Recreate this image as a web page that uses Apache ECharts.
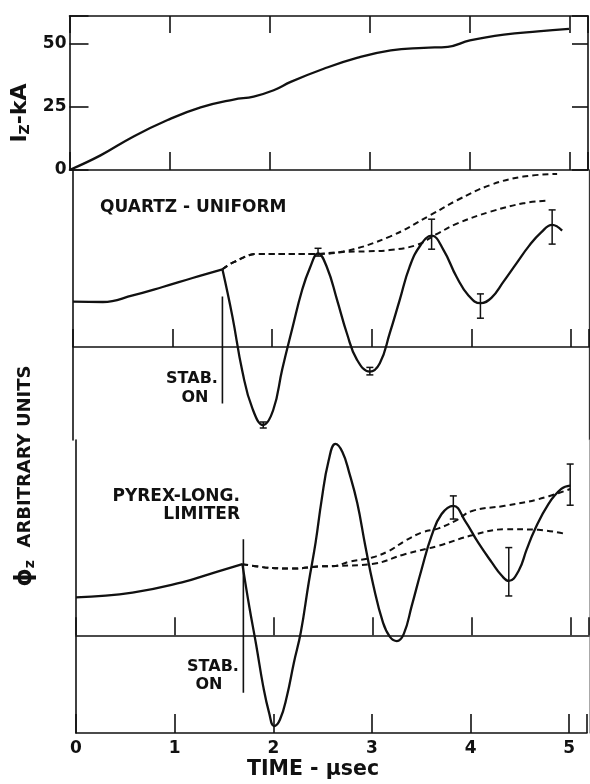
<!DOCTYPE html>
<html><head><meta charset="utf-8">
<script src="https://cdn.jsdelivr.net/npm/echarts@6/dist/echarts.min.js"></script>
<style>html,body{margin:0;padding:0;background:#fff}#c{width:590px;height:784px}</style>
</head><body><div id="c"></div>
<script>
// ---------- data (time in microseconds) ----------
const xTicks = [0, 1, 2, 3, 4, 5];
const currentTicks = [0, 25, 50];

// Top panel: I_z (kA)
const currentT  = [0, 0.31, 0.64, 0.98, 1.31, 1.64, 1.84, 2.04, 2.21, 2.54, 2.88, 3.21, 3.54, 3.78, 4.0, 4.34, 4.68, 4.99];
const currentKA = [0, 5.8, 13.3, 19.8, 24.8, 27.9, 29.1, 31.6, 34.9, 40.1, 44.5, 47.4, 48.4, 48.8, 51.3, 53.6, 54.9, 55.9];

// Quartz - uniform (phi_z, arbitrary units)
const quartzPreT  = [0, 0.3, 0.6, 0.9, 1.2, 1.5];
const quartzPreV  = [1.51, 1.50, 1.72, 2.00, 2.30, 2.59];
const quartzPostT = [1.50, 1.60, 1.70, 1.80, 1.91, 2.01, 2.10, 2.20, 2.30, 2.38, 2.46, 2.55, 2.65, 2.75, 2.85, 2.98, 3.08, 3.18, 3.28, 3.38, 3.49, 3.60, 3.72, 3.85, 3.97, 4.09, 4.20, 4.32, 4.45, 4.58, 4.70, 4.81, 4.91];
const quartzPostV = [2.59, 1.02, -0.81, -2.04, -2.60, -2.10, -0.75, 0.60, 1.90, 2.65, 3.12, 2.65, 1.58, 0.45, -0.42, -0.82, -0.54, 0.46, 1.57, 2.68, 3.40, 3.71, 3.23, 2.34, 1.72, 1.46, 1.64, 2.17, 2.78, 3.38, 3.82, 4.07, 3.88];
const quartzDashUpT = [1.50, 1.62, 1.85, 2.08, 2.41, 2.71, 3.18, 3.59, 3.86, 4.19, 4.52, 4.86];
const quartzDashUpV = [2.59, 2.84, 3.10, 3.10, 3.10, 3.18, 3.68, 4.40, 4.90, 5.40, 5.68, 5.77];
const quartzDashLoT = [1.50, 1.62, 1.85, 2.08, 2.41, 2.71, 2.95, 3.18, 3.45, 3.65, 3.86, 4.19, 4.52, 4.77];
const quartzDashLoV = [2.59, 2.84, 3.10, 3.10, 3.10, 3.17, 3.19, 3.23, 3.40, 3.76, 4.12, 4.51, 4.79, 4.88];
const quartzErrT  = [1.91, 2.46, 2.98, 3.60, 4.09, 4.81];
const quartzErrLo = [-2.70, 3.03, -0.93, 3.26, 0.96, 3.43];
const quartzErrHi = [-2.50, 3.29, -0.68, 4.26, 1.77, 4.57];
const quartzStabT = 1.50;
const quartzStabV = [1.68, -1.88];

// Pyrex - long. limiter
const pyrexPreT  = [0, 0.57, 1.07, 1.34, 1.68];
const pyrexPreV  = [1.26, 1.42, 1.76, 2.03, 2.37];
const pyrexPostT = [1.68, 1.75, 1.82, 1.89, 1.95, 2.00, 2.06, 2.13, 2.20, 2.27, 2.35, 2.42, 2.48, 2.55, 2.62, 2.69, 2.76, 2.84, 2.92, 3.00, 3.10, 3.17, 3.24, 3.31, 3.39, 3.49, 3.59, 3.69, 3.81, 3.93, 4.06, 4.20, 4.30, 4.37, 4.47, 4.55, 4.63, 4.77, 4.90, 4.99];
const pyrexPostV = [2.37, 0.95, -0.33, -1.69, -2.58, -3.02, -2.80, -2.02, -0.91, 0.10, 1.76, 3.10, 4.50, 5.80, 6.37, 6.10, 5.40, 4.40, 3.00, 1.70, 0.42, -0.05, -0.19, 0.05, 0.98, 2.20, 3.31, 4.03, 4.31, 3.80, 3.09, 2.42, 1.98, 1.81, 2.15, 2.85, 3.50, 4.37, 4.87, 4.98];
const pyrexDashUpT = [1.68, 1.91, 2.18, 2.45, 2.62, 2.75, 2.99, 3.16, 3.32, 3.49, 3.66, 3.83, 4.00, 4.33, 4.67, 4.99];
const pyrexDashUpV = [2.37, 2.26, 2.22, 2.29, 2.31, 2.44, 2.59, 2.81, 3.14, 3.42, 3.56, 3.81, 4.14, 4.31, 4.53, 4.87];
const pyrexDashLoT = [1.68, 1.91, 2.18, 2.45, 2.62, 2.99, 3.32, 3.66, 4.00, 4.33, 4.67, 4.92];
const pyrexDashLoV = [2.37, 2.26, 2.22, 2.29, 2.31, 2.37, 2.70, 2.98, 3.33, 3.53, 3.51, 3.39];
const pyrexErrT  = [3.81, 4.37, 4.99];
const pyrexErrLo = [3.87, 1.31, 4.33];
const pyrexErrHi = [4.64, 2.92, 5.70];
const pyrexStabT = 1.69;
const pyrexStabV = [3.20, -1.91];

// ---------- helpers ----------
const INK = '#111';
const FONT = 'DejaVu Sans';
const zip = (a, b) => a.map((v, i) => [v, b[i]]);
const isInt = v => Math.abs(v - Math.round(v)) < 1e-6;

function errItem(params, api) {
  const x = api.value(0), lo = api.value(1), hi = api.value(2);
  const p1 = api.coord([x, lo]), p2 = api.coord([x, hi]);
  const w = 3.5, st = { stroke: INK, lineWidth: 1.5 };
  return { type: 'group', children: [
    { type: 'line', shape: { x1: p1[0], y1: p1[1], x2: p2[0], y2: p2[1] }, style: st },
    { type: 'line', shape: { x1: p1[0] - w, y1: p1[1], x2: p1[0] + w, y2: p1[1] }, style: st },
    { type: 'line', shape: { x1: p2[0] - w, y1: p2[1], x2: p2[0] + w, y2: p2[1] }, style: st }
  ]};
}

const axLine = { onZero: false, lineStyle: { color: INK, width: 1.6 } };
function xAx(grid, pos, tickLen, extra) {
  return Object.assign({
    type: 'value', gridIndex: grid, position: pos, min: 0, max: 5.18, interval: 1,
    axisLine: axLine, axisTick: { inside: true, length: tickLen, lineStyle: { color: INK, width: 1.6 } },
    axisLabel: { show: false }, splitLine: { show: false }
  }, extra || {});
}
function yAx(grid, pos, min, max, extra) {
  return Object.assign({
    type: 'value', gridIndex: grid, position: pos, min: min, max: max,
    axisLine: axLine, axisTick: { show: false }, axisLabel: { show: false }, splitLine: { show: false }
  }, extra || {});
}
function solid(xi, yi, data) {
  return { type: 'line', xAxisIndex: xi, yAxisIndex: yi, data: data, smooth: 0.45, symbol: 'none',
    lineStyle: { color: INK, width: 2.3 }, silent: true, animation: false };
}
function dashed(xi, yi, data) {
  return { type: 'line', xAxisIndex: xi, yAxisIndex: yi, data: data, smooth: 0.4, symbol: 'none',
    lineStyle: { color: INK, width: 2, type: [6, 4] }, silent: true, animation: false };
}
function errs(xi, yi, t, lo, hi) {
  return { type: 'custom', xAxisIndex: xi, yAxisIndex: yi, renderItem: errItem,
    data: t.map((v, i) => [v, lo[i], hi[i]]), encode: { x: 0, y: [1, 2] }, silent: true, animation: false };
}
function stab(xi, yi, t, v) {
  return { type: 'line', xAxisIndex: xi, yAxisIndex: yi, data: [[t, v[0]], [t, v[1]]], symbol: 'none',
    lineStyle: { color: INK, width: 1.6 }, silent: true, animation: false };
}
function txt(x, y, s, size, align) {
  return { type: 'text', x: x, y: y, style: { text: s, fill: INK, font: 'bold ' + size + 'px "' + FONT + '"',
    textAlign: align || 'center', textVerticalAlign: 'middle' } };
}

const chart = echarts.init(document.getElementById('c'), null, { renderer: 'canvas' });
chart.setOption({
  backgroundColor: '#fff',
  animation: false,
  grid: [
    { left: 69.5, right: 2, top: 16, height: 154 },
    { left: 73, right: 1, top: 170, height: 270 },
    { left: 76, right: 1, top: 440, height: 293 },
    { left: 76, right: 1, top: 440, height: 293 }
  ],
  xAxis: [
    xAx(0, 'bottom', 18),
    xAx(0, 'top', 17),
    xAx(1, 'bottom', 18, { axisLine: { onZero: true, lineStyle: { color: INK, width: 1.6 } } }),
    xAx(2, 'bottom', 18, { axisLine: { onZero: true, lineStyle: { color: INK, width: 1.6 } } }),
    xAx(3, 'bottom', 19, { axisLabel: { show: true, margin: 7, color: INK, fontFamily: FONT, fontWeight: 'bold', fontSize: 17,
      formatter: v => (isInt(v) && xTicks.indexOf(Math.round(v)) >= 0) ? String(Math.round(v)) : '' } })
  ],
  yAxis: [
    yAx(0, 'left', 0, 61, { interval: 25,
      axisTick: { show: true, inside: true, length: 19, lineStyle: { color: INK, width: 1.6 } },
      axisLabel: { show: true, margin: 3, color: INK, fontFamily: FONT, fontWeight: 'bold', fontSize: 17,
        formatter: v => currentTicks.indexOf(v) >= 0 ? String(v) : '' } }),
    yAx(0, 'right', 0, 61, { interval: 25,
      axisTick: { show: true, inside: true, length: 16, lineStyle: { color: INK, width: 1.6 } } }),
    yAx(1, 'left', -3.1, 5.9),
    yAx(1, 'right', -3.1, 5.9, { axisLine: { onZero: false, lineStyle: { color: '#333', width: 1.3 } } }),
    yAx(2, 'left', -3.25, 6.5),
    yAx(2, 'right', -3.25, 6.5, { axisLine: { onZero: false, lineStyle: { color: '#aaa', width: 1 } } }),
    yAx(3, 'left', -3.25, 6.5, { show: false })
  ],
  series: [
    solid(0, 0, zip(currentT, currentKA)),
    solid(2, 2, zip(quartzPreT, quartzPreV)),
    solid(2, 2, zip(quartzPostT, quartzPostV)),
    dashed(2, 2, zip(quartzDashUpT, quartzDashUpV)),
    dashed(2, 2, zip(quartzDashLoT, quartzDashLoV)),
    errs(2, 2, quartzErrT, quartzErrLo, quartzErrHi),
    stab(2, 2, quartzStabT, quartzStabV),
    solid(3, 4, zip(pyrexPreT, pyrexPreV)),
    solid(3, 4, zip(pyrexPostT, pyrexPostV)),
    dashed(3, 4, zip(pyrexDashUpT, pyrexDashUpV)),
    dashed(3, 4, zip(pyrexDashLoT, pyrexDashLoV)),
    errs(3, 4, pyrexErrT, pyrexErrLo, pyrexErrHi),
    stab(3, 4, pyrexStabT, pyrexStabV)
  ],
  graphic: [
    txt(100, 208, 'QUARTZ - UNIFORM', 17, 'left'),
    txt(240, 497, 'PYREX-LONG.', 17, 'right'),
    txt(240, 515, 'LIMITER', 17, 'right'),
    txt(192, 379, 'STAB.', 16),
    txt(195, 398, 'ON', 16),
    txt(213, 667, 'STAB.', 16),
    txt(209, 685, 'ON', 16),
    txt(313, 770, 'TIME - \u03bcsec', 20.5),
    { type: 'text', x: 20, y: 113, rotation: Math.PI / 2,
      style: { text: '{m|I}{s|Z}{m|-kA}', fill: INK, textAlign: 'center', textVerticalAlign: 'middle',
        rich: { m: { fontFamily: FONT, fontWeight: 'bold', fontSize: 22, lineHeight: 24, fill: INK },
                s: { fontFamily: FONT, fontWeight: 'bold', fontSize: 14, lineHeight: 10, verticalAlign: 'bottom', fill: INK } } } },
    { type: 'text', x: 25, y: 476, rotation: Math.PI / 2,
      style: { text: '{p|\u03d5}{s|z}{m|  ARBITRARY UNITS}', fill: INK, textAlign: 'center', textVerticalAlign: 'middle',
        rich: { p: { fontFamily: FONT, fontWeight: 'bold', fontSize: 23, lineHeight: 24, fill: INK },
                m: { fontFamily: FONT, fontWeight: 'bold', fontSize: 18, lineHeight: 24, fill: INK },
                s: { fontFamily: FONT, fontWeight: 'bold', fontSize: 14, lineHeight: 10, verticalAlign: 'bottom', fill: INK } } } }
  ]
});
</script></body></html>
